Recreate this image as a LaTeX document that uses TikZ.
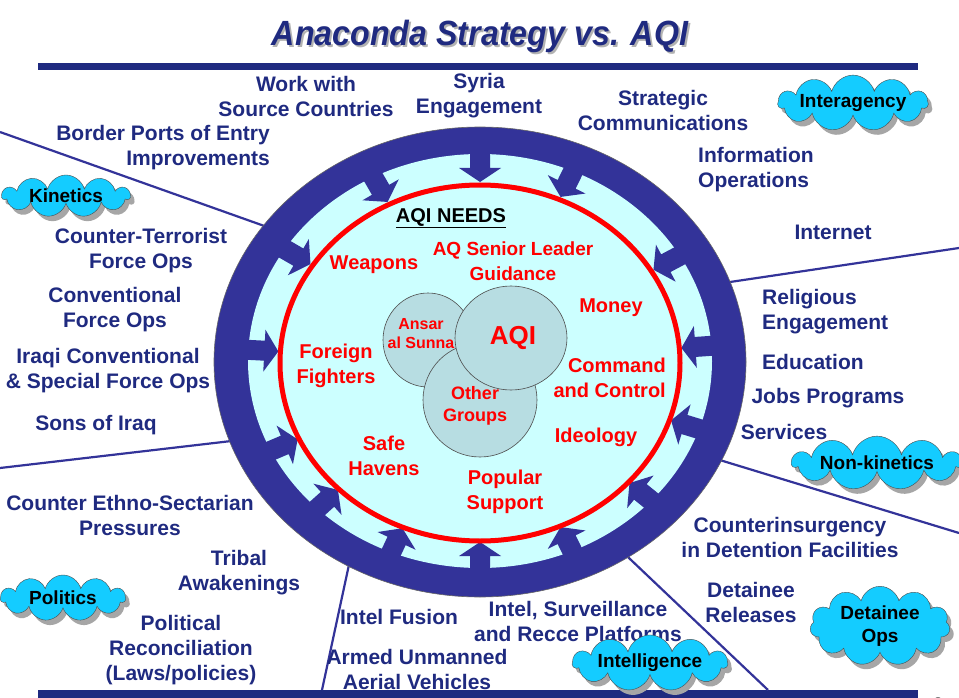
\documentclass[tikz,border=0pt]{standalone}
\usepackage{fontspec}
\setmainfont{Liberation Sans}
\usetikzlibrary{shapes.symbols,shadows,calc}
\definecolor{navy}{RGB}{31,42,128}
\definecolor{band}{RGB}{51,51,153}
\definecolor{lcyan}{RGB}{204,255,255}
\definecolor{cloudc}{RGB}{20,204,255}
\definecolor{venn}{RGB}{183,221,226}
\begin{document}
\begin{tikzpicture}[x=1pt,y=-1pt,
  lbl/.style={font=\fontsize{21}{25}\selectfont\bfseries, text=navy, align=center, inner sep=0},
  need/.style={font=\fontsize{20}{25}\selectfont\bfseries, text=red, align=center, inner sep=0},
  cloudbox/.style={cloud, cloud puffs=11, cloud ignores aspect, draw=black!70, fill=cloudc,
     font=\fontsize{19}{23}\selectfont\bfseries, align=center, inner sep=0,
     copy shadow={shadow xshift=4pt, shadow yshift=-5pt, fill=gray!70, draw=none}},
  spoke/.style={draw=band, line width=2.2pt},
  vennc/.style={draw=black!70, fill=venn, line width=0.6pt},
  bar/.style={fill=navy},
  blockarrow/.style={fill=band}
]
\useasboundingbox (0,0) rectangle (959,698);
\fill[white] (0,0) rectangle (959,698);

% title
\node[inner sep=0, text=gray!60, font=\fontsize{35}{40}\selectfont\bfseries\itshape] (titleshadow) at (482,38) {\scalebox{0.92}[1]{Anaconda Strategy vs. AQI}};
\node[inner sep=0, text=navy, font=\fontsize{35}{40}\selectfont\bfseries\itshape] (title) at (480,36) {\scalebox{0.92}[1]{Anaconda Strategy vs. AQI}};
\fill[bar] (38,63) rectangle (918,70);
\fill[bar] (38,690) rectangle (918,698);
\node[font=\fontsize{18}{20}\selectfont\bfseries, inner sep=0] (pagenum) at (938,704) {8};

% spokes
\coordinate (s1a) at (0,132);   \coordinate (s1b) at (270,228);
\coordinate (s2a) at (0,468);   \coordinate (s2b) at (240,440);
\coordinate (s3a) at (959,248); \coordinate (s3b) at (730,282);
\coordinate (s4a) at (959,533); \coordinate (s4b) at (700,454);
\coordinate (s5a) at (322,690); \coordinate (s5b) at (350,560);
\coordinate (s6a) at (768,690); \coordinate (s6b) at (610,540);
\foreach \a/\b in {s1a/s1b,s2a/s2b,s3a/s3b,s4a/s4b,s5a/s5b,s6a/s6b}
  \draw[spoke] (\a) -- (\b);

% ring
\coordinate (C) at (480,362);
\draw[fill=band, draw=black!60, line width=0.6pt] (C) ellipse [x radius=266, y radius=235];
\fill[lcyan] (480,361) ellipse [x radius=232, y radius=207];
\foreach \p in {90,120,150,177,203,222,245,270,296,321,343,4,28,64}{
  \pgfmathsetmacro\r{202/sqrt(cos(\p)^2+1.2594*sin(\p)^2)}
  \pgfmathsetmacro\rr{249/sqrt(cos(\p)^2+1.2695*sin(\p)^2)}
  \begin{scope}[shift={(C)}, rotate=\p]
    \fill[blockarrow] (\r,0) -- (\r+14,21) -- (\r+14,10) -- (\rr,10) -- (\rr,-10) -- (\r+14,-10) -- (\r+14,-21) -- cycle;
  \end{scope}
}
\draw[red, line width=5pt] (480,363) ellipse [x radius=200, y radius=178];

% venn
\draw[vennc] (428,340) ellipse [x radius=45, y radius=47];
\draw[vennc] (480,400) ellipse [x radius=57, y radius=57];
\draw[vennc] (511,338) ellipse [x radius=56, y radius=52];
\node[need, font=\fontsize{16}{19}\selectfont\bfseries] (ansar) at (421,334) {Ansar\\al Sunna};
\node[need, font=\fontsize{26}{30}\selectfont\bfseries] (aqi) at (513,338) {AQI};
\node[need, font=\fontsize{18}{22}\selectfont\bfseries] (other) at (475,406) {Other\\Groups};

% needs
\node[inner sep=0, font=\fontsize{20}{25}\selectfont\bfseries] (needs) at (451,218) {\underline{AQI NEEDS}};
\node[need] (weap) at (374,265) {Weapons};
\node[need, font=\fontsize{19}{25}\selectfont\bfseries] (aqsl) at (513,261) {AQ Senior Leader\\Guidance};
\node[need] (money) at (611,308) {Money};
\node[need] (foreign) at (336,366) {Foreign\\Fighters};
\node[need, align=right, anchor=east] (cmd) at (666,378) {Command\\and Control};
\node[need] (ideo) at (596,437) {Ideology};
\node[need] (safe) at (384,456) {Safe\\Havens};
\node[need] (pop) at (505,492) {Popular\\Support};

% outer labels
\node[lbl] (wsc) at (306,96) {Work with\\Source Countries};
\node[lbl] (syria) at (479,96) {Syria\\Engagement};
\node[lbl] (strat) at (663,110) {Strategic\\Communications};
\node[lbl, align=right, anchor=east] (border) at (270,148) {Border Ports of Entry\\Improvements};
\node[lbl, align=left, anchor=west] (info) at (698,170) {Information\\Operations};
\node[lbl] (internet) at (833,232) {Internet};
\node[lbl] (ctf) at (141,251) {Counter-Terrorist\\Force Ops};
\node[lbl] (conv) at (115,310) {Conventional\\Force Ops};
\node[lbl] (iraqi) at (108,371) {Iraqi Conventional\\\& Special Force Ops};
\node[lbl] (sons) at (96,425) {Sons of Iraq};
\node[lbl, align=left, anchor=west] (relig) at (762,312) {Religious\\Engagement};
\node[lbl, anchor=west] (educ) at (762,362) {Education};
\node[lbl] (jobs) at (828,398) {Jobs Programs};
\node[lbl] (serv) at (784,432) {Services};
\node[lbl] (ceth) at (130,515) {Counter Ethno-Sectarian\\Pressures};
\node[lbl] (tribal) at (239,573) {Tribal\\Awakenings};
\node[lbl] (polrec) at (181,650) {Political\\Reconciliation\\(Laws/policies)};
\node[lbl] (fusion) at (399,617) {Intel Fusion};
\node[lbl] (auv) at (417,669) {Armed Unmanned\\Aerial Vehicles};
\node[lbl] (isr) at (578,621) {Intel, Surveillance\\and Recce Platforms};
\node[lbl] (coin) at (790,537) {Counterinsurgency\\in Detention Facilities};
\node[lbl] (detrel) at (751,602) {Detainee\\Releases};

% clouds
\node[cloudbox, minimum width=150pt, minimum height=42pt] (inter) at (853,103) {Interagency};
\node[cloudbox, minimum width=128pt, minimum height=42pt] (kin) at (66,196) {Kinetics};
\node[cloudbox, minimum width=170pt, minimum height=40pt] (nonk) at (877,463) {Non-kinetics};
\node[cloudbox, minimum width=125pt, minimum height=46pt] (polc) at (63,598) {Politics};
\node[cloudbox, minimum width=140pt, minimum height=68pt] (det) at (880,626) {Detainee\\Ops};
\node[cloudbox, minimum width=155pt, minimum height=40pt] (intel) at (650,663) {Intelligence};
\end{tikzpicture}
\end{document}
